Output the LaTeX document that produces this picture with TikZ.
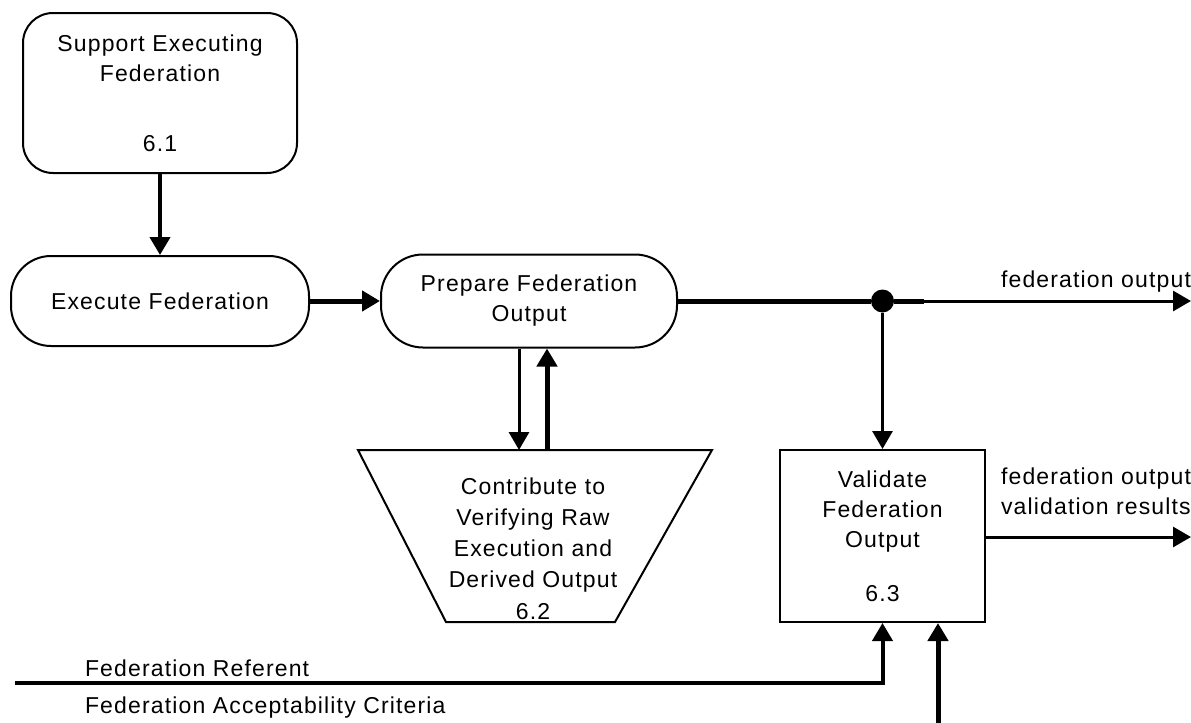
\documentclass[tikz,border=0pt]{standalone}
\usepackage{fontspec}
\setmainfont{Liberation Sans}[LetterSpace=5]
\usetikzlibrary{arrows.meta}

\begin{document}
\begin{tikzpicture}[x=0.5pt,y=-0.5pt,font=\fontsize{11.5}{15}\selectfont]
        \tikzstyle{proc} = [draw,line width=1pt,align=center,inner sep=0pt]
        \tikzstyle{tip} = [-{Triangle[width=10pt,length=9pt]}]
        \tikzstyle{flow} = [line width=1.5pt,tip]
        \tikzstyle{heavy} = [line width=2.5pt,tip]
        \useasboundingbox (0,0) rectangle (1191,723);
        \node(support)[proc,rounded corners=15pt,minimum width=137pt,minimum height=80pt] at (160,93) {Support Executing\\Federation\\[20pt]6.1};
        \node(exec)[proc,rounded corners=20pt,minimum width=149pt,minimum height=45pt] at (160,301) {Execute Federation};
        \node(prep)[proc,rounded corners=21pt,minimum width=148pt,minimum height=46.5pt] at (529,301) {Prepare Federation\\Output};
        \node(valid)[proc,minimum width=102.5pt,minimum height=86pt] at (882.5,536) {Validate\\Federation\\Output\\[12pt]6.3};
        \draw[line width=1pt] (358,450) coordinate(ctop) -- (712,450) -- (615,622) -- (446,622) -- cycle;
        \node(contrib)[align=center] at (533,549) {Contribute to\\[0.5pt]Verifying Raw\\[0.5pt]Execution and\\[0.5pt]Derived Output\\[1pt]6.2};
        \node(junct)[circle,fill,inner sep=0pt,minimum size=11.5pt] at (882.5,301) {};
        \coordinate(out1) at (1191,301);
        \coordinate(out2) at (1191,537);
        \coordinate(ref) at (15,683);
        \coordinate(crit) at (938,723);
        \draw[line width=2pt,tip] (support) -- (exec);
        \draw[heavy] (exec) -- (prep);
        \draw[line width=2.5pt] (prep.east) -- (junct) -- ++(41,0);
        \draw[flow] (junct) -- (out1);
        \draw[flow] (junct) -- (valid);
        \draw[flow] ([xshift=-5pt]prep.south) -- ([xshift=-5pt]prep.south |- ctop);
        \draw[heavy] ([xshift=9pt]prep.south |- ctop) -- ([xshift=9pt]prep.south);
        \draw[flow] (out2 -| valid.east) -- (out2);
        \draw[line width=2pt,tip] (ref) -| (valid.south);
        \draw[heavy] (crit) -- (crit |- valid.south);
        \node(fo)[anchor=west] at (994,282) {federation output};
        \node(vr)[anchor=west,align=left] at (994,491) {federation output\\validation results};
        \node(fr)[anchor=west] at (78,668) {Federation Referent};
        \node(fac)[anchor=west] at (78,708) {Federation Acceptability Criteria};
      \end{tikzpicture}
\end{document}
